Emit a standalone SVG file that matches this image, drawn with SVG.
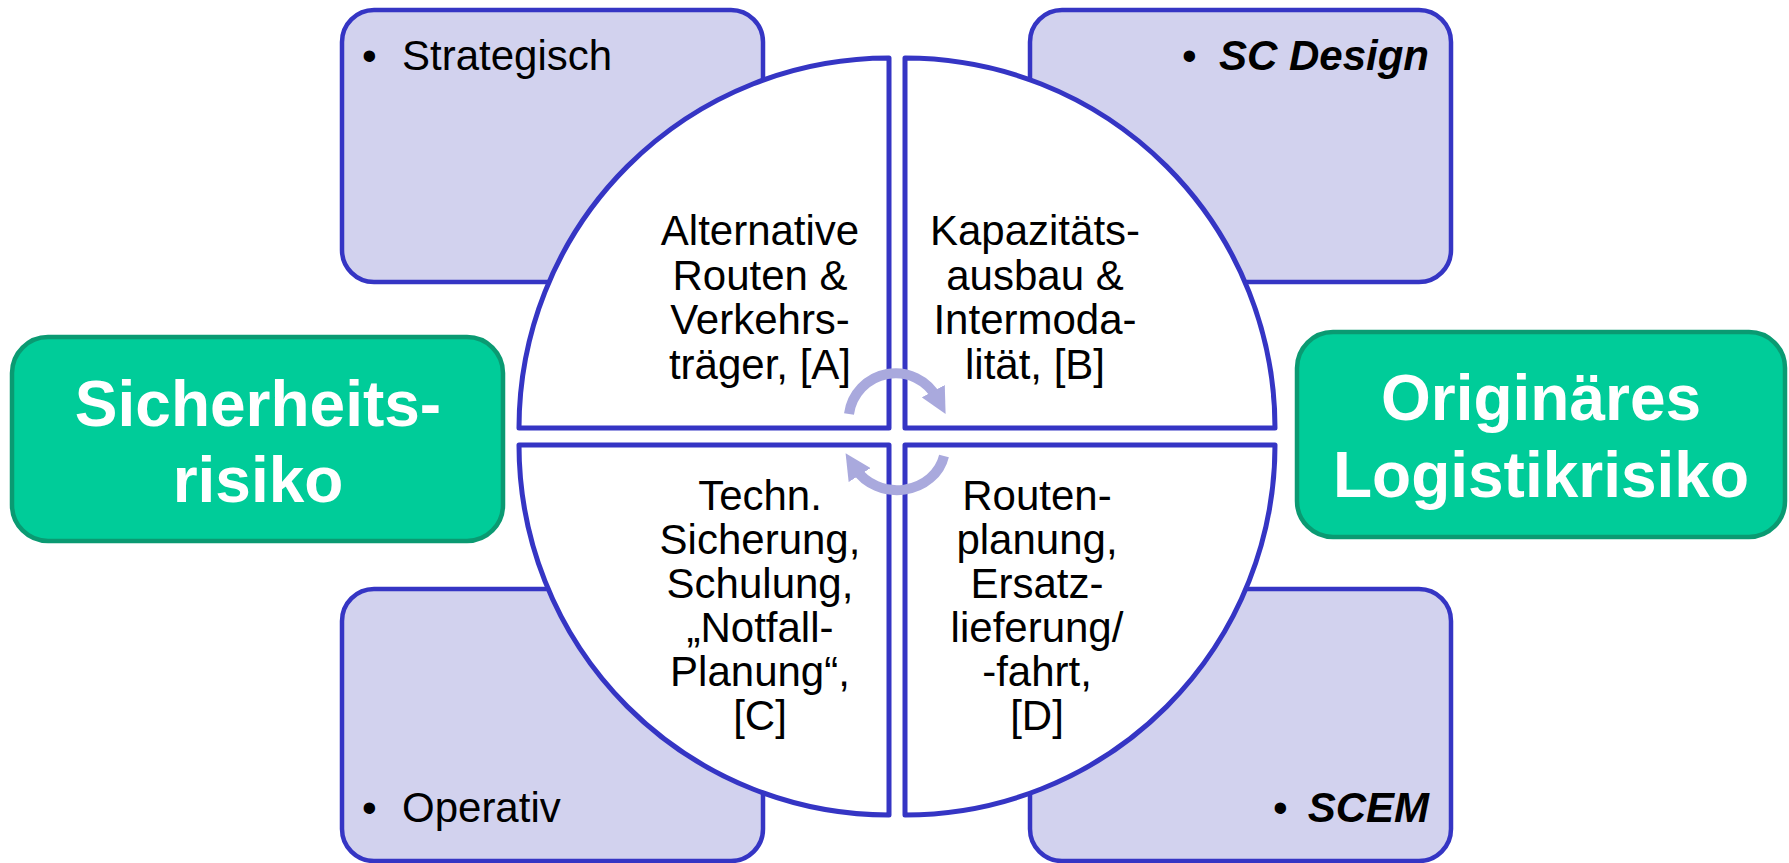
<svg xmlns="http://www.w3.org/2000/svg" width="1789" height="863" viewBox="0 0 1789 863">
  <style>
    .card { fill: #d2d2ee; stroke: #3535c4; stroke-width: 4.5; }
    .risk { fill: #00cc99; stroke: #0a9a72; stroke-width: 4.5; }
    .quad { fill: #ffffff; stroke: #3535c4; stroke-width: 5; stroke-linejoin: round; }
    .cycle { fill: none; stroke: #a9a9dd; stroke-width: 10; }
    .t { font-family: "Liberation Sans", Arial, sans-serif; fill: #000000; }
    .lbl { font-size: 42px; }
    .quadtxt { font-size: 42px; text-anchor: middle; }
    .big { font-family: "Liberation Sans", Arial, sans-serif; font-size: 64px; font-weight: bold; fill: #ffffff; text-anchor: middle; }
    .em { font-weight: bold; font-style: italic; }
  </style>
  <defs>
    <marker id="head" viewBox="0 0 10 10" refX="3" refY="5" markerWidth="2.6" markerHeight="2.6" orient="auto" markerUnits="strokeWidth">
      <path d="M0,0 L10,5 L0,10 Z" fill="#a9a9dd"/>
    </marker>
  </defs>

  <!-- planning horizon cards -->
  <g id="card-strategisch">
    <rect class="card" x="342" y="10" width="421" height="272" rx="32"/>
    <text class="t lbl" x="362" y="70">•</text>
    <text class="t lbl" x="402" y="70">Strategisch</text>
  </g>
  <g id="card-scdesign">
    <rect class="card" x="1030" y="10" width="421" height="272" rx="32"/>
    <text class="t lbl" x="1182" y="70">•</text>
    <text class="t lbl em" x="1429" y="70" text-anchor="end">SC Design</text>
  </g>
  <g id="card-operativ">
    <rect class="card" x="342" y="589" width="421" height="272" rx="32"/>
    <text class="t lbl" x="362" y="822">•</text>
    <text class="t lbl" x="402" y="822">Operativ</text>
  </g>
  <g id="card-scem">
    <rect class="card" x="1030" y="589" width="421" height="272" rx="32"/>
    <text class="t lbl" x="1273" y="822">•</text>
    <text class="t lbl em" x="1429" y="822" text-anchor="end">SCEM</text>
  </g>

  <!-- risk categories -->
  <g id="risk-sicherheit">
    <rect class="risk" x="12" y="337" width="491" height="204" rx="36"/>
    <text class="big" x="258" y="426">Sicherheits-</text>
    <text class="big" x="258" y="502">risiko</text>
  </g>
  <g id="risk-logistik">
    <rect class="risk" x="1297" y="332" width="488" height="205" rx="36"/>
    <text class="big" x="1541" y="420">Originäres</text>
    <text class="big" x="1541" y="497">Logistikrisiko</text>
  </g>

  <!-- quadrants of the measure circle -->
  <g id="quad-a">
    <path class="quad" d="M889,428 L889,58 A370,370 0 0 0 519,428 Z"/>
    <text class="t quadtxt" x="760" y="245">Alternative</text>
    <text class="t quadtxt" x="760" y="290">Routen &amp;</text>
    <text class="t quadtxt" x="760" y="334">Verkehrs-</text>
    <text class="t quadtxt" x="760" y="379">träger, [A]</text>
  </g>
  <g id="quad-b">
    <path class="quad" d="M905,428 L905,58 A370,370 0 0 1 1275,428 Z"/>
    <text class="t quadtxt" x="1035" y="245">Kapazitäts-</text>
    <text class="t quadtxt" x="1035" y="290">ausbau &amp;</text>
    <text class="t quadtxt" x="1035" y="334">Intermoda-</text>
    <text class="t quadtxt" x="1035" y="379">lität, [B]</text>
  </g>
  <g id="quad-c">
    <path class="quad" d="M889,445 L889,815 A370,370 0 0 1 519,445 Z"/>
    <text class="t quadtxt" x="760" y="510">Techn.</text>
    <text class="t quadtxt" x="760" y="554">Sicherung,</text>
    <text class="t quadtxt" x="760" y="598">Schulung,</text>
    <text class="t quadtxt" x="760" y="642">„Notfall-</text>
    <text class="t quadtxt" x="760" y="686">Planung“,</text>
    <text class="t quadtxt" x="760" y="730">[C]</text>
  </g>
  <g id="quad-d">
    <path class="quad" d="M905,445 L905,815 A370,370 0 0 0 1275,445 Z"/>
    <text class="t quadtxt" x="1037" y="510">Routen-</text>
    <text class="t quadtxt" x="1037" y="554">planung,</text>
    <text class="t quadtxt" x="1037" y="598">Ersatz-</text>
    <text class="t quadtxt" x="1037" y="642">lieferung/</text>
    <text class="t quadtxt" x="1037" y="686">-fahrt,</text>
    <text class="t quadtxt" x="1037" y="730">[D]</text>
  </g>

  <!-- cycle arrows in the centre -->
  <g id="connectors">
    <path class="cycle" d="M849,414 A47,47 0 0 1 937,398" marker-end="url(#head)"/>
    <path class="cycle" d="M944,456 A48,43 0 0 1 855.4,468.5" marker-end="url(#head)"/>
  </g>
</svg>
